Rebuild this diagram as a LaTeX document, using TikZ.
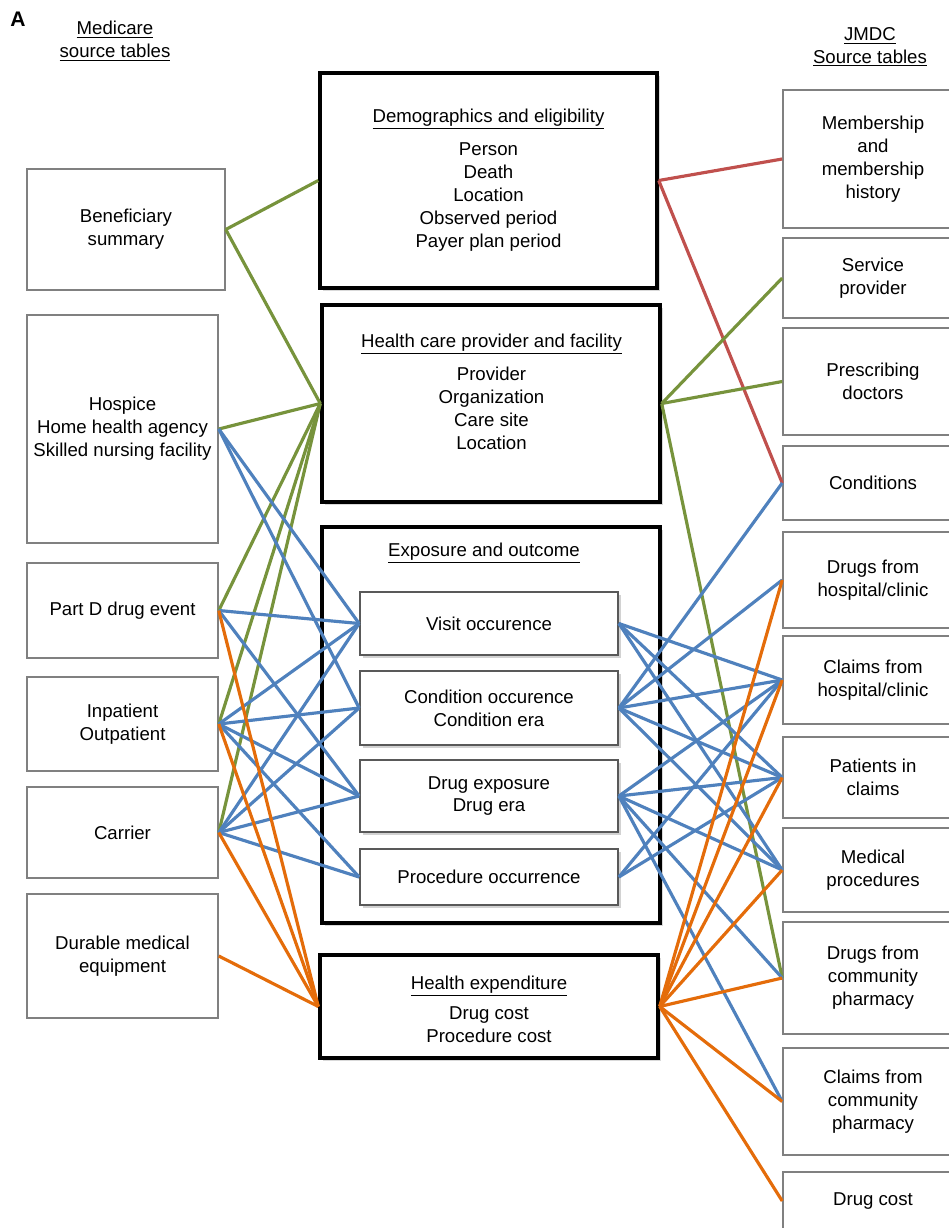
\documentclass[tikz,border=0pt]{standalone}
\usepackage{fontspec}
\setmainfont{Liberation Sans}
\usetikzlibrary{positioning, shadows}

\definecolor{lgreen}{RGB}{119,147,60}
\definecolor{lblue}{RGB}{79,129,189}
\definecolor{lorange}{RGB}{228,108,10}
\definecolor{lred}{RGB}{192,80,77}

\begin{document}
\begin{tikzpicture}[
            x=0.02cm, y=-0.02cm,
            every node/.style={font=\fontsize{10.6}{13}\selectfont, align=center},
            srcbox/.style={draw=black!50, line width=0.9pt, fill=white, inner sep=0pt},
            bigbox/.style={draw=black, line width=2pt, fill=white, inner sep=0pt,
                drop shadow={shadow xshift=1.5pt, shadow yshift=-1.5pt, opacity=0.3}},
            subbox/.style={draw=black!65, line width=1pt, fill=white, inner sep=0pt,
                drop shadow={shadow xshift=1.5pt, shadow yshift=-1.5pt, opacity=0.35}},
            gline/.style={draw=lgreen, line width=1.8pt},
            bline/.style={draw=lblue, line width=1.8pt},
            oline/.style={draw=lorange, line width=1.8pt},
            rline/.style={draw=lred, line width=1.8pt}
        ]

            \useasboundingbox (0,0) rectangle (948,1228);

            % headers
            \node[font=\fontsize{12}{14}\selectfont\bfseries] (panel) at (18,19) {A};
            \node (medh) at (115,41) {\underline{Medicare}\\\underline{source tables}};
            \node (jmdch) at (870,47) {\underline{JMDC}\\\underline{Source tables}};

            % Medicare tables
            \node[srcbox, minimum width=3.96cm, minimum height=2.42cm] (bs) at (126,229.5) {Beneficiary\\summary};
            \node[srcbox, minimum width=3.82cm, minimum height=4.56cm] (hosp) at (122.5,429) {Hospice\\Home health agency\\Skilled nursing facility};
            \node[srcbox, minimum width=3.82cm, minimum height=1.90cm] (partd) at (122.5,610.5) {Part D drug event};
            \node[srcbox, minimum width=3.82cm, minimum height=1.88cm] (inout) at (122.5,724) {Inpatient\\Outpatient};
            \node[srcbox, minimum width=3.82cm, minimum height=1.82cm] (carrier) at (122.5,832.5) {Carrier};
            \node[srcbox, minimum width=3.82cm, minimum height=2.48cm] (dme) at (122.5,956) {Durable medical\\equipment};

            % common data model
            \node[bigbox, minimum width=6.74cm, minimum height=4.30cm] (demo) at (488.5,180.5) {};
            \node (demotx) at (488.5,180) {\underline{Demographics and eligibility}\\[6pt]Person\\Death\\Location\\Observed period\\Payer plan period};
            \node[bigbox, minimum width=6.76cm, minimum height=3.94cm] (hcp) at (491,403.5) {};
            \node (hcptx) at (491.5,391.5) {\underline{Health care provider and facility}\\[6pt]Provider\\Organization\\Care site\\Location};
            \node[bigbox, minimum width=6.76cm, minimum height=7.92cm] (expo) at (491,725) {};
            \node (expotx) at (484,553) {\underline{Exposure and outcome}};
            \node[subbox, minimum width=5.16cm, minimum height=1.26cm] (visit) at (489,623.5) {Visit occurence};
            \node[subbox, minimum width=5.16cm, minimum height=1.48cm] (cond) at (489,708) {Condition occurence\\Condition era};
            \node[subbox, minimum width=5.16cm, minimum height=1.44cm] (drug) at (489,796) {Drug exposure\\Drug era};
            \node[subbox, minimum width=5.16cm, minimum height=1.12cm] (proc) at (489,877) {Procedure occurrence};
            \node[bigbox, minimum width=6.76cm, minimum height=2.06cm] (he) at (489,1006.5) {};
            \node (hetx) at (489,1009) {\underline{Health expenditure}\\[4pt]Drug cost\\Procedure cost};

            % JMDC tables
            \node[srcbox, minimum width=3.60cm, minimum height=2.76cm] (memb) at (873,159) {Membership\\and\\membership\\history};
            \node[srcbox, minimum width=3.60cm, minimum height=1.60cm] (servp) at (873,278) {Service\\provider};
            \node[srcbox, minimum width=3.60cm, minimum height=2.14cm] (presc) at (873,381.5) {Prescribing\\doctors};
            \node[srcbox, minimum width=3.60cm, minimum height=1.48cm] (condj) at (873,483) {Conditions};
            \node[srcbox, minimum width=3.60cm, minimum height=1.92cm] (drugh) at (873,580) {Drugs from\\hospital/clinic};
            \node[srcbox, minimum width=3.60cm, minimum height=1.76cm] (claimh) at (873,680) {Claims from\\hospital/clinic};
            \node[srcbox, minimum width=3.60cm, minimum height=1.62cm] (pat) at (873,777.5) {Patients in\\claims};
            \node[srcbox, minimum width=3.60cm, minimum height=1.68cm] (medp) at (873,870) {Medical\\procedures};
            \node[srcbox, minimum width=3.60cm, minimum height=2.24cm] (drugc) at (873,978) {Drugs from\\community\\pharmacy};
            \node[srcbox, minimum width=3.60cm, minimum height=2.14cm] (claimc) at (873,1101.5) {Claims from\\community\\pharmacy};
            \node[srcbox, minimum width=3.60cm, minimum height=1.16cm] (cost) at (873,1201) {Drug cost};

            % Medicare mapping
            \draw[gline] (bs.east) -- (demo.west);
            \foreach \s in {bs,hosp,partd,inout,carrier}
                \draw[gline] (\s.east) -- (hcp.west);
            \foreach \t in {visit,cond}
                \draw[bline] (hosp.east) -- (\t.west);
            \foreach \t in {visit,drug}
                \draw[bline] (partd.east) -- (\t.west);
            \foreach \s in {inout,carrier}
                \foreach \t in {visit,cond,drug,proc}
                    \draw[bline] (\s.east) -- (\t.west);
            \foreach \s in {partd,inout,carrier,dme}
                \draw[oline] (\s.east) -- (he.west);

            % JMDC mapping
            \foreach \t in {memb,condj}
                \draw[rline] (demo.east) -- (\t.west);
            \foreach \t in {servp,presc,drugc}
                \draw[gline] (hcp.east) -- (\t.west);
            \foreach \t in {condj,drugh}
                \draw[bline] (cond.east) -- (\t.west);
            \foreach \t in {claimh,pat}
                \foreach \s in {visit,cond,drug,proc}
                    \draw[bline] (\s.east) -- (\t.west);
            \foreach \s in {visit,cond,drug}
                \draw[bline] (\s.east) -- (medp.west);
            \foreach \t in {drugc,claimc}
                \draw[bline] (drug.east) -- (\t.west);
            \foreach \t in {drugh,claimh,pat,medp,drugc,claimc,cost}
                \draw[oline] (he.east) -- (\t.west);
        \end{tikzpicture}
\end{document}
